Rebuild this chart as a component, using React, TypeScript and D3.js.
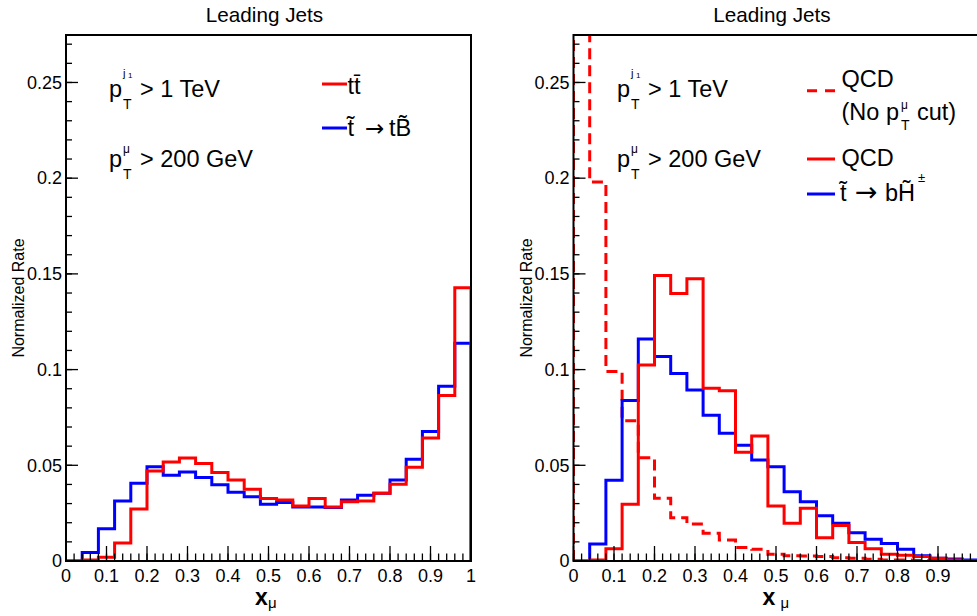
import React from "react";
import * as d3 from "d3";

// ---------- data ----------
const X_MIN = 0;
const X_MAX = 1;
const Y_MAX = 0.2748;

// Left panel: t tbar vs stop -> t B~
const leftTTbar = [0, 0.0005, 0.002, 0.0094, 0.0272, 0.047, 0.0517, 0.0538, 0.051, 0.0462, 0.0423, 0.0375, 0.0326, 0.0319, 0.0287, 0.0326, 0.0282, 0.031, 0.0314, 0.0354, 0.0401, 0.049, 0.0643, 0.0864, 0.1427];
const leftStopTB = [0, 0.0045, 0.0169, 0.0314, 0.0406, 0.0493, 0.0448, 0.0465, 0.0436, 0.0399, 0.0359, 0.0336, 0.0296, 0.0305, 0.0282, 0.0282, 0.0279, 0.0319, 0.0343, 0.0354, 0.0423, 0.0531, 0.0676, 0.0913, 0.1138];

// Right panel: QCD (no cut), QCD, stop -> b H~
const rightQCDNoCut = [0.445, 0.198, 0.099, 0.0733, 0.054, 0.0328, 0.0226, 0.0193, 0.0145, 0.011, 0.007, 0.0061, 0.0035, 0.0028, 0.0026, 0.0023, 0.0017, 0.0014, 0.0009, 0.0005, 0.0005, 0.0002, 0.0002, 0.0002, 0.0002];
const rightQCD = [0, 0.0005, 0.0064, 0.0296, 0.1024, 0.1491, 0.1397, 0.1474, 0.0902, 0.0889, 0.0568, 0.0653, 0.0287, 0.0197, 0.0275, 0.0122, 0.0185, 0.0096, 0.0064, 0.0035, 0.003, 0.0023, 0.0014, 0.0005, 0];
const rightStopBH = [0, 0.0089, 0.0422, 0.0838, 0.116, 0.1068, 0.0979, 0.0894, 0.0761, 0.0667, 0.0605, 0.0528, 0.0493, 0.0362, 0.031, 0.0237, 0.0197, 0.0148, 0.0113, 0.0092, 0.0061, 0.0028, 0.0014, 0.001, 0.0005];

const xMajorTicks = [0, 0.1, 0.2, 0.3, 0.4, 0.5, 0.6, 0.7, 0.8, 0.9, 1];
const leftXTickLabels = ["0", "0.1", "0.2", "0.3", "0.4", "0.5", "0.6", "0.7", "0.8", "0.9", "1"];
const rightXTickLabels = ["0", "0.1", "0.2", "0.3", "0.4", "0.5", "0.6", "0.7", "0.8", "0.9"];
const yMajorTicks = [0, 0.05, 0.1, 0.15, 0.2, 0.25];
const yTickLabels = ["0", "0.05", "0.1", "0.15", "0.2", "0.25"];
const X_MINOR_STEP = 0.02;
const Y_MINOR_STEP = 0.01;

const TITLE = "Leading Jets";
const Y_TITLE = "Normalized Rate";

const RED = "#ff0000";
const BLUE = "#0000ff";
const FONT = "'Liberation Sans', Arial, Helvetica, sans-serif";
const ARROW_FONT = "'DejaVu Sans', sans-serif";

// ---------- layout ----------
const W = 977;
const H = 616;
const TOP = 35;
const BOTTOM = 561;
const PANEL_W = 405;
const TXT = 23.5;

function histPath(values: number[], x: d3.ScaleLinear<number, number>, y: d3.ScaleLinear<number, number>) {
  const w = (X_MAX - X_MIN) / values.length;
  const pts: [number, number][] = [[x(X_MIN), y(0)]];
  values.forEach((v, i) => {
    pts.push([x(X_MIN + i * w), y(v)]);
    pts.push([x(X_MIN + (i + 1) * w), y(v)]);
  });
  pts.push([x(X_MAX), y(0)]);
  return d3.line()(pts) || "";
}

type Series = { values: number[]; color: string; dash?: string };

function Panel(props: {
  id: string;
  x0: number;
  series: Series[];
  xLabels: string[];
  xTitleGap: number;
  children?: React.ReactNode;
}) {
  const { id, x0, series, xLabels, xTitleGap } = props;
  const x1 = x0 + PANEL_W;
  const x = d3.scaleLinear().domain([X_MIN, X_MAX]).range([x0, x1]);
  const y = d3.scaleLinear().domain([0, Y_MAX]).range([BOTTOM, TOP]);
  const xMinor = d3.range(X_MIN, X_MAX + 1e-9, X_MINOR_STEP);
  const yMinor = d3.range(0, Y_MAX, Y_MINOR_STEP);
  const cx = (x0 + x1) / 2;
  return (
    <g>
      <defs>
        <clipPath id={`clip-${id}`}>
          <rect x={x0} y={TOP} width={PANEL_W} height={BOTTOM - TOP} />
        </clipPath>
      </defs>
      {/* title */}
      <text x={cx - 4} y={22} fontSize={20.7} textAnchor="middle" fontFamily={FONT}>
        {TITLE}
      </text>
      {/* y title */}
      <text
        transform={`translate(${x0 - 42},${(TOP + BOTTOM) / 2}) rotate(-90)`}
        fontSize={16}
        textAnchor="middle"
        fontFamily={FONT}
      >
        {Y_TITLE}
      </text>
      {/* histograms */}
      <g clipPath={`url(#clip-${id})`}>
        {series.map((s, i) => (
          <path
            key={i}
            d={histPath(s.values, x, y)}
            fill="none"
            stroke={s.color}
            strokeWidth={3}
            strokeDasharray={s.dash}
            strokeLinejoin="miter"
          />
        ))}
      </g>
      {/* ticks */}
      <g stroke="#000" strokeWidth={1.3}>
        {xMinor.map((t, i) => (
          <line key={`xm${i}`} x1={x(t)} x2={x(t)} y1={BOTTOM} y2={BOTTOM - 7.5} />
        ))}
        {xMajorTicks.map((t, i) => (
          <line key={`xM${i}`} x1={x(t)} x2={x(t)} y1={BOTTOM} y2={BOTTOM - 15} />
        ))}
        {yMinor.map((t, i) => (
          <line key={`ym${i}`} x1={x0} x2={x0 + 6} y1={y(t)} y2={y(t)} />
        ))}
        {yMajorTicks.map((t, i) => (
          <line key={`yM${i}`} x1={x0} x2={x0 + 12} y1={y(t)} y2={y(t)} />
        ))}
      </g>
      {/* frame */}
      <rect x={x0} y={TOP} width={PANEL_W} height={BOTTOM - TOP} fill="none" stroke="#000" strokeWidth={2} />
      {/* tick labels */}
      <g fontFamily={FONT} fontSize={18}>
        {xLabels.map((l, i) => (
          <text key={`xl${i}`} x={x(xMajorTicks[i])} y={582} textAnchor="middle">
            {l}
          </text>
        ))}
        {yTickLabels.map((l, i) => (
          <text key={`yl${i}`} x={x0 - 4} y={y(yMajorTicks[i]) + 6.3} textAnchor="end">
            {l}
          </text>
        ))}
      </g>
      {/* x title */}
      <text x={cx - 13.5} y={605} fontSize={23} fontWeight="bold" fontFamily={FONT}>
        x
      </text>
      <text x={cx - 0.5 + xTitleGap} y={608} fontSize={15} fontFamily={FONT}>
        μ
      </text>
      {props.children}
    </g>
  );
}

function Cuts(props: { x: number }) {
  const x = props.x;
  const y1 = 96.7;
  const y2 = 166.7;
  return (
    <g fontFamily={FONT}>
      <text x={x} y={y1} fontSize={TXT}>p</text>
      <text x={x + 14} y={y1 - 20} fontSize={11}>j</text>
      <text x={x + 19} y={y1 - 18.5} fontSize={8}>1</text>
      <text x={x + 14} y={y1 + 12.3} fontSize={14}>T</text>
      <text x={x + 31} y={y1} fontSize={TXT}>{"> 1 TeV"}</text>

      <text x={x} y={y2} fontSize={TXT}>p</text>
      <text x={x + 14} y={y2 - 14} fontSize={12}>μ</text>
      <text x={x + 14} y={y2 + 12.3} fontSize={14}>T</text>
      <text x={x + 31} y={y2} fontSize={TXT}>{"> 200 GeV"}</text>
    </g>
  );
}

function Arrow(props: { x: number; y: number; size: number }) {
  return (
    <text x={props.x} y={props.y} fontFamily={ARROW_FONT} fontSize={props.size}>
      {"\u2192"}
    </text>
  );
}

export default function App() {
  const leftX0 = 66;
  const rightX0 = 573.5;
  return (
    <svg
      width={W}
      height={H}
      style={{ position: "absolute", left: 0, top: 0, background: "#fff" }}
      xmlns="http://www.w3.org/2000/svg"
    >
      <rect x={0} y={0} width={W} height={H} fill="#fff" />
      <Panel
        id="left"
        x0={leftX0}
        series={[
          { values: leftStopTB, color: BLUE },
          { values: leftTTbar, color: RED },
        ]}
        xLabels={leftXTickLabels}
        xTitleGap={0}
      >
        <Cuts x={109} />
        <g fontFamily={FONT} fontSize={TXT}>
          <line x1={322} x2={347} y1={84} y2={84} stroke={RED} strokeWidth={3} />
          <text x={347.5} y={94}>{"tt\u0304"}</text>
          <line x1={322} x2={347} y1={128} y2={128} stroke={BLUE} strokeWidth={3} />
          <text x={347.5} y={136}>{"t\u0303"}</text>
          <Arrow x={365} y={136} size={23} />
          <text x={389} y={136}>{"tB\u0303"}</text>
        </g>
      </Panel>
      <Panel
        id="right"
        x0={rightX0}
        series={[
          { values: rightQCDNoCut, color: RED, dash: "11,6" },
          { values: rightStopBH, color: BLUE },
          { values: rightQCD, color: RED },
        ]}
        xLabels={rightXTickLabels}
        xTitleGap={5}
      >
        <Cuts x={617} />
        <g fontFamily={FONT} fontSize={TXT}>
          <line x1={807} x2={835} y1={90.7} y2={90.7} stroke={RED} strokeWidth={3} strokeDasharray="10,8" />
          <text x={841.5} y={87}>QCD</text>
          <text x={841.5} y={119.5}>(No p</text>
          <text x={901} y={108.5} fontSize={12}>μ</text>
          <text x={901} y={130} fontSize={14}>T</text>
          <text x={917} y={119.5}>cut)</text>
          <line x1={807} x2={835} y1={159} y2={159} stroke={RED} strokeWidth={3} />
          <text x={841.5} y={166}>QCD</text>
          <line x1={807} x2={835} y1={194} y2={194} stroke={BLUE} strokeWidth={3} />
          <text x={840} y={201}>{"t\u0303"}</text>
          <Arrow x={855} y={201} size={27} />
          <text x={885} y={201}>{"bH\u0303"}</text>
          <text x={918} y={182} fontSize={13}>±</text>
        </g>
      </Panel>
    </svg>
  );
}
